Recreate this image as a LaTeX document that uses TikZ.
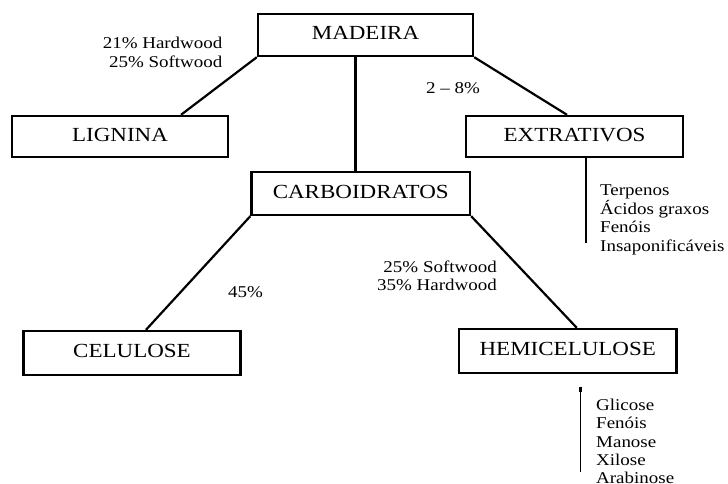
\documentclass[tikz,border=0pt]{standalone}
\usepackage{fontspec}
\setmainfont{Liberation Serif}[FakeStretch=1.15]
\begin{document}
\begin{tikzpicture}[x=1pt,y=-1pt,
  box/.style={draw,line width=2.4pt,inner sep=0pt,text height=13.3pt,text depth=4pt,
    font=\fontsize{20}{24}\selectfont},
  lbl/.style={inner sep=0pt,font=\fontsize{16.5}{19}\selectfont},
  conn/.style={line width=2.2pt},
  thin/.style={line width=1.3pt}]
\useasboundingbox (0,0) rectangle (728,484);
% boxes
\node[box,minimum width=215pt,minimum height=42pt] (mad) at (365.5,35) {MADEIRA};
\node[box,minimum width=216pt,minimum height=41pt] (lig) at (120,136.5) {LIGNINA};
\node[box,minimum width=217pt,minimum height=41pt] (ext) at (574.5,136.5) {EXTRATIVOS};
\node[box,minimum width=218.5pt,minimum height=43pt] (carb) at (360.75,193.5) {CARBOIDRATOS};
\node[box,minimum width=217pt,minimum height=44pt] (cel) at (132,353) {CELULOSE};
\node[box,minimum width=217.5pt,minimum height=44pt] (hem) at (567.75,351) {HEMICELULOSE};
% connectors
\draw[conn] (mad.south west) -- ([xshift=61pt]lig.north);
\draw[conn] ([xshift=-10pt]mad.south) -- ([xshift=-10pt]mad.south |- carb.north);
\draw[conn] (mad.south east) -- ([xshift=-7.5pt]ext.north);
\draw[conn] (carb.south west) -- ([xshift=14pt]cel.north);
\draw[conn] (carb.south east) -- ([xshift=9pt]hem.north);
\coordinate (extend) at ([xshift=11.5pt,yshift=-85pt]ext.south);
\draw[conn] ([xshift=11.5pt]ext.south) -- (extend);
\coordinate (hemtop) at (580.5,386.5);
\coordinate (hemtick) at (580.5,392);
\coordinate (hembot) at (580.5,471.5);
\draw[thin] (hemtop) -- (hembot);
\draw[conn] (hemtop) -- (hemtick);
% labels
\node[lbl,anchor=base east] (l1) at (222.6,48.8) {21\% Hardwood};
\node[lbl,anchor=base east] (l2) at (222.6,67.2) {25\% Softwood};
\node[lbl,anchor=base west] (l3) at (426,93.8) {2 – 8\%};
\node[lbl,anchor=base west] (l4) at (228,297.2) {45\%};
\node[lbl,anchor=base east] (l5) at (497,272.2) {25\% Softwood};
\node[lbl,anchor=base east] (l6) at (497,290.5) {35\% Hardwood};
% lists
\node[lbl,anchor=base west] (e1) at (600,195) {Terpenos};
\node[lbl,anchor=base west] (e2) at (600,214) {Ácidos graxos};
\node[lbl,anchor=base west] (e3) at (600,232.7) {Fenóis};
\node[lbl,anchor=base west] (e4) at (600,251.4) {Insaponificáveis};
\node[lbl,anchor=base west] (h1) at (596,410.5) {Glicose};
\node[lbl,anchor=base west] (h2) at (596,428.8) {Fenóis};
\node[lbl,anchor=base west] (h3) at (596,447.1) {Manose};
\node[lbl,anchor=base west] (h4) at (596,465.4) {Xilose};
\node[lbl,anchor=base west] (h5) at (596,483.2) {Arabinose};
\end{tikzpicture}
\end{document}
